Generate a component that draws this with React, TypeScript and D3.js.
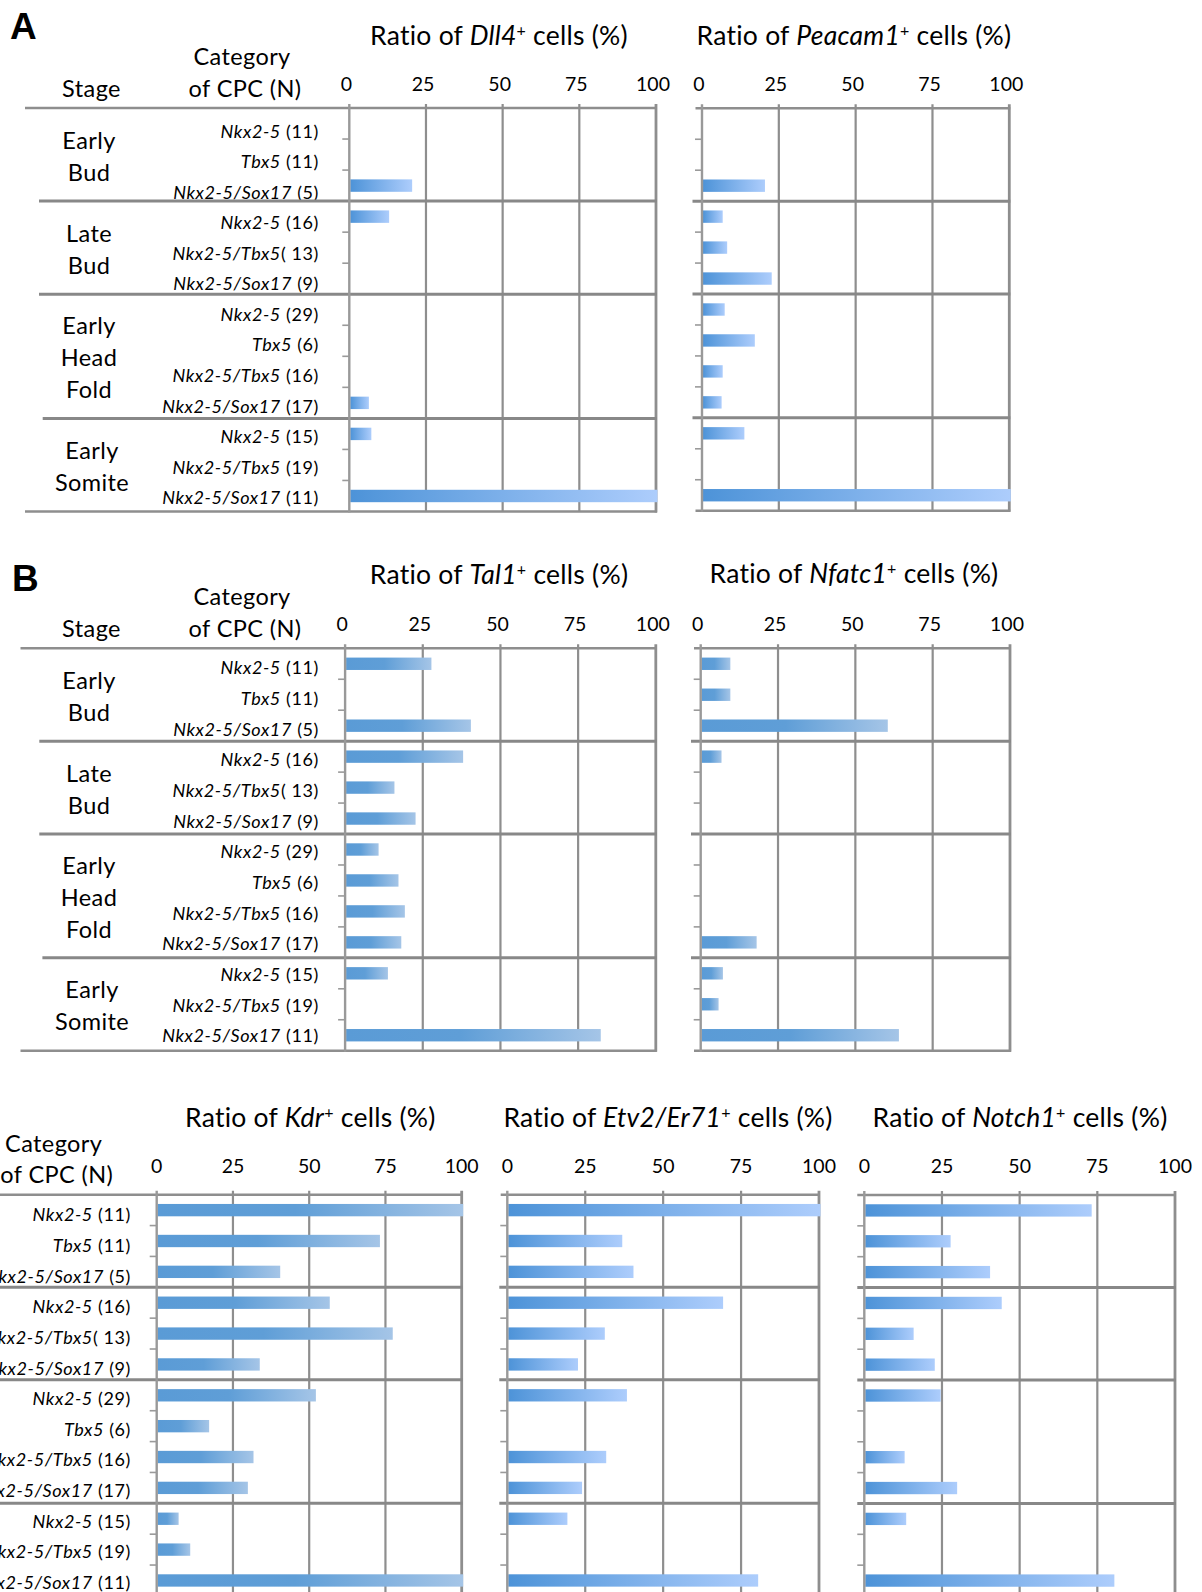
import * as React from "react";
import * as d3 from "d3";

// categories (13 rows in 4 stage groups)
const stageNames = [["Early", "Bud"], ["Late", "Bud"], ["Early", "Head", "Fold"], ["Early", "Somite"]];
const groupSizes = [3, 3, 4, 3];
const cpcGenes = [
  "Nkx2-5", "Tbx5", "Nkx2-5/Sox17",
  "Nkx2-5", "Nkx2-5/Tbx5", "Nkx2-5/Sox17",
  "Nkx2-5", "Tbx5", "Nkx2-5/Tbx5", "Nkx2-5/Sox17",
  "Nkx2-5", "Nkx2-5/Tbx5", "Nkx2-5/Sox17",
];
const cpcCounts = [
  " (11)", " (11)", " (5)",
  " (16)", "( 13)", " (9)",
  " (29)", " (6)", " (16)", " (17)",
  " (15)", " (19)", " (11)",
];
const xTicks = [0, 25, 50, 75, 100];

// ratio of marker-positive cells (%)
const dll4 = [0, 0, 20, 12.5, 0, 0, 0, 0, 0, 5.9, 6.7, 0, 100];
const peacam1 = [0, 0, 20, 6.25, 7.7, 22.2, 6.9, 16.7, 6.25, 5.9, 13.3, 0, 100];
const tal1 = [27.3, 0, 40, 37.5, 15.4, 22.2, 10.3, 16.7, 18.75, 17.6, 13.3, 0, 81.8];
const nfatc1 = [9.1, 9.1, 60, 6.25, 0, 0, 0, 0, 0, 17.6, 6.7, 5.3, 63.6];
const kdr = [100, 72.7, 40, 56.25, 76.9, 33.3, 51.7, 16.7, 31.25, 29.4, 6.7, 10.5, 100];
const etv2 = [100, 36.4, 40, 68.75, 30.8, 22.2, 37.9, 0, 31.25, 23.5, 18.8, 0, 80];
const notch1 = [72.7, 27.3, 40, 43.75, 15.4, 22.2, 24.1, 0, 12.5, 29.4, 13, 0, 80];

const FONT = "Lato, 'Open Sans', sans-serif";
const GRID = "#8e8e8e";

interface ChartSpec {
  gene: string;
  values: number[];
  x0: number;
  x1: number;
  top: number;
  bottom: number;
  titleX: number;
  titleY: number;
  tickY: number;
  tickShift: number;
  grad: string;
  outerLeft: number;
  groupLeft: number[];
}

interface PanelSpec {
  letter?: { text: string; x: number; y: number };
  stageHeader?: [number, number];
  catHeader: [number, number];
  ofHeader: [number, number];
  stageX?: number[];
  labelRight: number;
  labelInset: [number, number];
  charts: ChartSpec[];
}

const panels: PanelSpec[] = [
  {
    letter: { text: "A", x: 10, y: 39 },
    stageHeader: [91.5, 96.7],
    catHeader: [242, 65],
    ofHeader: [245, 96.7],
    stageX: [89, 89, 89, 92],
    labelRight: 319,
    labelInset: [8.4, 2],
    charts: [
      { gene: "Dll4", values: dll4, x0: 349.3, x1: 656, top: 108, bottom: 511.5, titleX: 499, titleY: 45, tickY: 91, tickShift: -3, grad: "fadeA", outerLeft: 25, groupLeft: [39, 39, 42.7] },
      { gene: "Peacam1", values: peacam1, x0: 702, x1: 1009.3, top: 108.3, bottom: 510.7, titleX: 854, titleY: 45, tickY: 91, tickShift: -3, grad: "fadeA", outerLeft: 695.5, groupLeft: [692.5, 692.5, 692.5] },
    ],
  },
  {
    letter: { text: "B", x: 12, y: 591 },
    stageHeader: [91.5, 636.5],
    catHeader: [242, 605],
    ofHeader: [245, 636.5],
    stageX: [89, 89, 89, 92],
    labelRight: 319,
    labelInset: [4.7, 1],
    charts: [
      { gene: "Tal1", values: tal1, x0: 345.1, x1: 655.8, top: 648.3, bottom: 1050.7, titleX: 499, titleY: 583.5, tickY: 630.5, tickShift: -3, grad: "fadeB", outerLeft: 20.5, groupLeft: [39.3, 39.3, 42.4] },
      { gene: "Nfatc1", values: nfatc1, x0: 700.7, x1: 1010, top: 648.3, bottom: 1050.7, titleX: 854, titleY: 583, tickY: 630.5, tickShift: -3, grad: "fadeB", outerLeft: 694, groupLeft: [691, 691, 691] },
    ],
  },
  {
    catHeader: [53.7, 1151.7],
    ofHeader: [56.8, 1182.7],
    labelRight: 131,
    labelInset: [5.3, 2.4],
    charts: [
      { gene: "Kdr", values: kdr, x0: 156.7, x1: 461.7, top: 1194.7, bottom: 1595.9, titleX: 310.3, titleY: 1126.7, tickY: 1172.7, tickShift: 0, grad: "fadeB", outerLeft: -5, groupLeft: [-5, -5, -5] },
      { gene: "Etv2/Er71", values: etv2, x0: 507.3, x1: 819, top: 1194.7, bottom: 1595.9, titleX: 668, titleY: 1126.7, tickY: 1172.7, tickShift: 0, grad: "fadeA", outerLeft: 500.7, groupLeft: [499.3, 499.3, 499.3] },
      { gene: "Notch1", values: notch1, x0: 864.3, x1: 1175, top: 1195, bottom: 1596, titleX: 1020, titleY: 1126.7, tickY: 1172.7, tickShift: 0, grad: "fadeA", outerLeft: 857.3, groupLeft: [857.3, 857.3, 857.3] },
    ],
  },
];

const rowCount = cpcGenes.length;
const groupEnds: number[] = Array.from(d3.cumsum(groupSizes));
const groupStarts: number[] = groupEnds.map((e, i) => e - groupSizes[i]);

const Title: React.FC<{ x: number; y: number; gene: string }> = ({ x, y, gene }) => (
  <text x={x} y={y} textAnchor="middle" fontSize={26.5} letterSpacing={0.25} style={{ whiteSpace: "pre" }}>
    <tspan>Ratio of </tspan>
    <tspan fontStyle="italic">{gene}</tspan>
    <tspan fontSize={16} dy={-9}>+</tspan>
    <tspan dy={9}> cells (%)</tspan>
  </text>
);

const Chart: React.FC<{ spec: ChartSpec }> = ({ spec }) => {
  const x = d3.scaleLinear().domain([0, 100]).range([spec.x0, spec.x1]);
  const y = d3.scaleBand<number>().domain(d3.range(rowCount)).range([spec.top, spec.bottom]);
  const bw = y.bandwidth();
  const barH = bw * 0.4;
  const inner = d3.range(1, rowCount).filter((i) => !groupEnds.includes(i));
  const rowTop = (i: number) => (i >= rowCount ? spec.bottom : (y(i) as number));

  return (
    <g>
      <Title x={spec.titleX} y={spec.titleY} gene={spec.gene} />
      {xTicks.map((t) => (
        <text key={t} x={x(t) + spec.tickShift} y={spec.tickY} textAnchor="middle" fontSize={19.5}>
          {t}
        </text>
      ))}
      {xTicks.slice(1, -1).map((t) => (
        <line key={t} x1={x(t)} x2={x(t)} y1={spec.top - 4} y2={spec.bottom} stroke={GRID} strokeWidth={2.2} />
      ))}
      <line x1={x(100)} x2={x(100)} y1={spec.top - 4} y2={spec.bottom + 1} stroke={GRID} strokeWidth={2.8} />
      {inner.map((i) => (
        <line key={i} x1={spec.x0 - 7} x2={spec.x0} y1={rowTop(i)} y2={rowTop(i)} stroke="#9a9a9a" strokeWidth={1.6} />
      ))}
      {spec.values.map((v, i) =>
        v > 0 ? (
          <rect
            key={i}
            x={spec.x0 + 1}
            y={(y(i) as number) + (bw - barH) / 2}
            width={x(v) - spec.x0 + 0.5}
            height={barH}
            fill={`url(#${spec.grad})`}
          />
        ) : null
      )}
      <line x1={spec.outerLeft} x2={x(100) + 1} y1={spec.top} y2={spec.top} stroke={GRID} strokeWidth={2.6} />
      {groupEnds.slice(0, -1).map((e, k) => (
        <line key={e} x1={spec.groupLeft[k]} x2={x(100) + 1} y1={rowTop(e)} y2={rowTop(e)} stroke="#888" strokeWidth={3} />
      ))}
      <line x1={spec.outerLeft} x2={x(100) + 1} y1={spec.bottom} y2={spec.bottom} stroke={GRID} strokeWidth={2.6} />
      <line x1={spec.x0} x2={spec.x0} y1={spec.top - 4} y2={spec.bottom + 1} stroke="#999" strokeWidth={2.4} />
    </g>
  );
};

const Panel: React.FC<{ p: PanelSpec }> = ({ p }) => {
  const first = p.charts[0];
  const labelY = d3
    .scaleBand<number>()
    .domain(d3.range(rowCount))
    .range([first.top + p.labelInset[0], first.bottom + p.labelInset[1]]);
  const rowY = d3.scaleBand<number>().domain(d3.range(rowCount)).range([first.top, first.bottom]);
  const lh = 32;
  const hs = 23.5;

  return (
    <g>
      {p.letter && (
        <text x={p.letter.x} y={p.letter.y} fontFamily="'Liberation Sans', Arial, sans-serif" fontWeight="bold" fontSize={37}>
          {p.letter.text}
        </text>
      )}
      {p.stageHeader && (
        <text x={p.stageHeader[0]} y={p.stageHeader[1]} textAnchor="middle" fontSize={hs} letterSpacing={0.4}>
          Stage
        </text>
      )}
      <text x={p.catHeader[0]} y={p.catHeader[1]} textAnchor="middle" fontSize={hs} letterSpacing={0.4}>
        Category
      </text>
      <text x={p.ofHeader[0]} y={p.ofHeader[1]} textAnchor="middle" fontSize={hs} letterSpacing={0.4}>
        of CPC (N)
      </text>
      {cpcGenes.map((g, i) => (
        <text
          key={i}
          x={p.labelRight}
          y={(labelY(i) as number) + labelY.bandwidth() / 2 + 6}
          textAnchor="end"
          fontSize={18}
          letterSpacing={0.6}
          style={{ whiteSpace: "pre" }}
        >
          <tspan fontStyle="italic">{g}</tspan>
          <tspan>{cpcCounts[i]}</tspan>
        </text>
      ))}
      {p.stageX &&
        stageNames.map((lines, k) => {
          const gTop = rowY(groupStarts[k]) as number;
          const gBot = groupEnds[k] >= rowCount ? first.bottom : (rowY(groupEnds[k]) as number);
          const gc = (gTop + gBot) / 2 + 2;
          return (
            <text key={k} textAnchor="middle" fontSize={hs} letterSpacing={0.4}>
              {lines.map((s, j) => (
                <tspan key={j} x={p.stageX![k]} y={gc - ((lines.length - 1) * lh) / 2 + j * lh + 8}>
                  {s}
                </tspan>
              ))}
            </text>
          );
        })}
      {p.charts.map((c) => (
        <Chart key={c.gene} spec={c} />
      ))}
    </g>
  );
};

export default function App() {
  return (
    <svg
      width={1202}
      height={1592}
      style={{ position: "absolute", left: 0, top: 0, background: "#fff" }}
      fontFamily={FONT}
      fill="#000"
    >
      <defs>
        <linearGradient id="fadeA" x1="0" x2="1" y1="0" y2="0">
          <stop offset="0" stopColor="#4d93d8" />
          <stop offset="1" stopColor="#adcdfc" />
        </linearGradient>
        <linearGradient id="fadeB" x1="0" x2="1" y1="0" y2="0">
          <stop offset="0" stopColor="#5a9bd6" />
          <stop offset="0.45" stopColor="#5f9ed7" />
          <stop offset="1" stopColor="#a5c5e7" />
        </linearGradient>
      </defs>
      <rect x={0} y={0} width={1202} height={1592} fill="#fff" />
      {panels.map((p, i) => (
        <Panel key={i} p={p} />
      ))}
    </svg>
  );
}
